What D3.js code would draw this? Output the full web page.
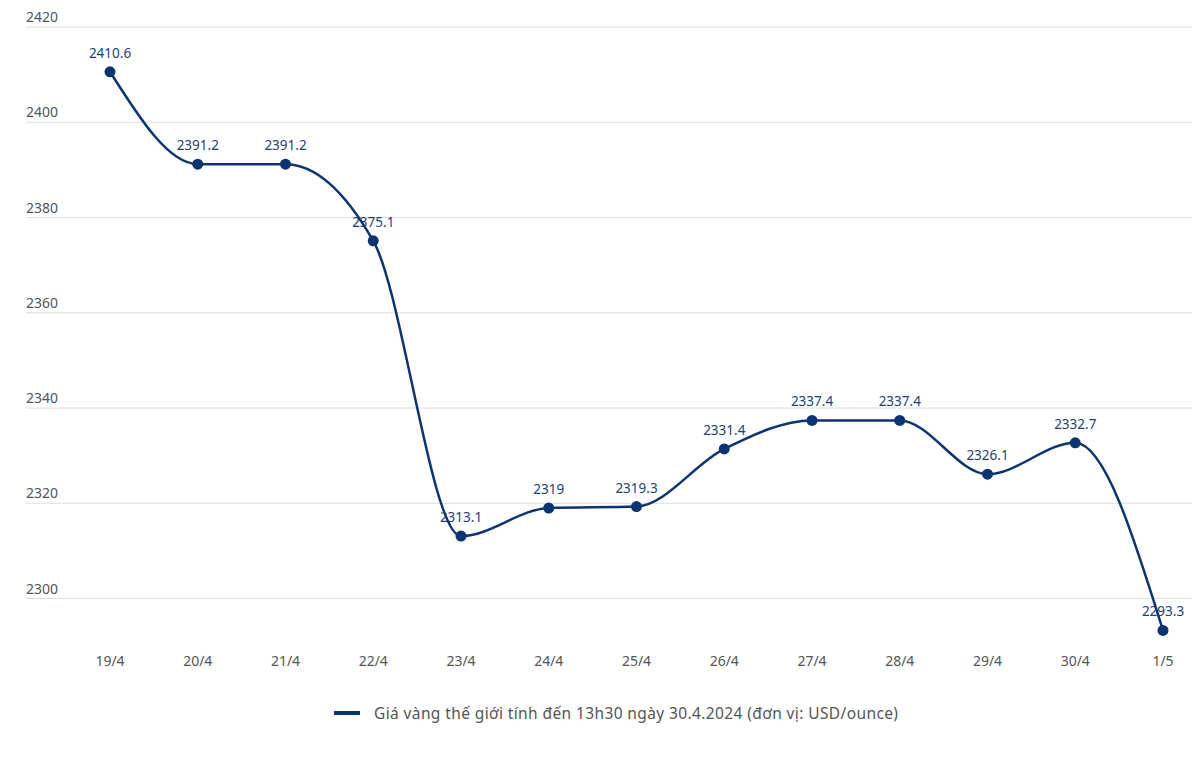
<!DOCTYPE html>
<html><head><meta charset="utf-8">
<script src="https://cdn.jsdelivr.net/npm/d3@7"></script>
<style>body{margin:0;background:#fff}svg{display:block}</style>
</head><body>
<svg id="c" width="1192" height="766"></svg>
<script>
const categories = ["19/4","20/4","21/4","22/4","23/4","24/4","25/4","26/4","27/4","28/4","29/4","30/4","1/5"];
const values = [2410.6,2391.2,2391.2,2375.1,2313.1,2319,2319.3,2331.4,2337.4,2337.4,2326.1,2332.7,2293.3];
const yTicks = [2300,2320,2340,2360,2380,2400,2420];
const legendLabel = "Giá vàng thế giới tính đến 13h30 ngày 30.4.2024 (đơn vị: USD/ounce)";

const svg = d3.select("#c");
const x = d3.scalePoint().domain(categories).range([110,1163]);
const y = d3.scaleLinear().domain([2300,2420]).range([598.5,27]);
const font = "'Noto Sans', 'Open Sans', sans-serif";

const g = svg.append("g");
yTicks.forEach(t=>{
  g.append("line").attr("x1",26).attr("x2",1192).attr("y1",y(t)).attr("y2",y(t))
   .attr("stroke","#dcdcdc").attr("stroke-width",1);
  g.append("text").attr("x",26).attr("y",y(t)-5).text(t)
   .attr("font-family",font).attr("font-size",14).attr("fill","#555");
});
categories.forEach(c=>{
  g.append("text").attr("x",x(c)).attr("y",666).attr("text-anchor","middle").text(c)
   .attr("font-family",font).attr("font-size",14).attr("fill","#555");
});
const line = d3.line().x((d,i)=>x(categories[i])).y(d=>y(d)).curve(d3.curveMonotoneX);
svg.append("path").datum(values).attr("d",line).attr("fill","none")
  .attr("stroke","#0b3470").attr("stroke-width",2.5);
svg.selectAll("circle").data(values).join("circle")
  .attr("cx",(d,i)=>x(categories[i])).attr("cy",d=>y(d)).attr("r",5.5).attr("fill","#0b3470");
svg.selectAll("text.lbl").data(values).join("text").attr("class","lbl")
  .attr("x",(d,i)=>x(categories[i])).attr("y",d=>y(d)-14).attr("text-anchor","middle")
  .text(d=>d).attr("font-family",font).attr("font-size",13.5).attr("fill","#1e3f73");
svg.append("line").attr("x1",334).attr("x2",360).attr("y1",713).attr("y2",713)
  .attr("stroke","#0b3470").attr("stroke-width",4);
svg.append("text").attr("x",374).attr("y",719).text(legendLabel)
  .attr("font-family",font).attr("font-size",15.5).attr("fill","#555")
  .attr("textLength",524).attr("lengthAdjust","spacing");
</script>
</body></html>
